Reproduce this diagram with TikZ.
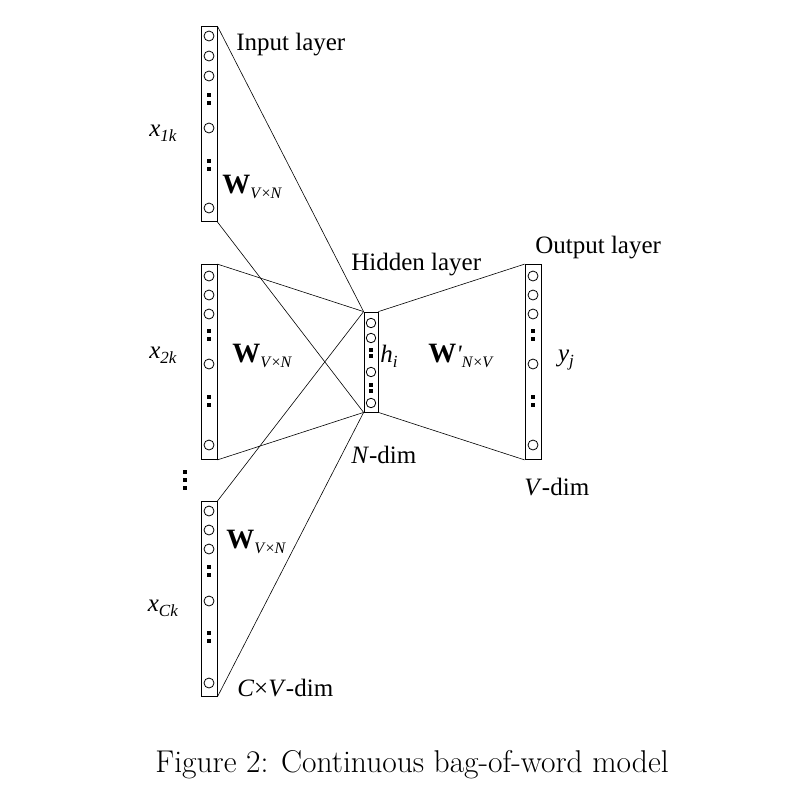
\documentclass[tikz,border=0pt]{standalone}
\usepackage{fontspec}
\newfontfamily\timesfont{Liberation Serif}
\usetikzlibrary{positioning}
\tikzset{
layer/.style={draw, thick, minimum width=16pt, minimum height=195pt, inner sep=0pt}, % column of units
unit/.style={draw, circle, thick, minimum size=10pt, inner sep=0pt},
vdot/.style={fill, minimum size=3.5pt, inner sep=0pt},
lbl/.style={font=\timesfont\fontsize{25}{28}\selectfont, inner sep=0pt},
}
\newcommand{\unitdots}[2]{% two small squares
\node[vdot] at (#1,#2-4) {}; \node[vdot] at (#1,#2+4) {};}
\newcommand{\bw}{{\fontsize{28}{30}\selectfont\textbf{W}}}
\newcommand{\vn}{\raisebox{-5pt}{\fontsize{16}{18}\selectfont\textit{V}×\textit{N}}}
\begin{document}
\begin{tikzpicture}[x=1pt,y=-1pt, semithick]
\useasboundingbox (0,0) rectangle (812,796);

% input columns
\node[layer] (in1) at (209,124) {};
\node[layer] (in2) at (209,362) {};
\node[layer] (in3) at (209,599) {};
\node[layer, minimum width=14pt, minimum height=100pt] (hid) at (371,362) {};
\node[layer] (out) at (533,362) {};

\foreach \y in {36,56,76,128,208} \node[unit] at (209,\y) {};
\unitdots{209}{99} \unitdots{209}{165}
\foreach \y in {276,295,314,364,445} {
  \node[unit] at (209,\y) {};
  \node[unit] at (533,\y) {};
}
\unitdots{209}{335} \unitdots{209}{401}
\unitdots{533}{335} \unitdots{533}{401}
\foreach \y in {511,530,549,601,683} \node[unit] at (209,\y) {};
\unitdots{209}{571} \unitdots{209}{637}
\foreach \y in {323,338,372,403} \node[unit, minimum size=9.5pt] at (371,\y) {};
\node[vdot] at (371,350) {}; \node[vdot] at (371,356) {};
\node[vdot] at (371,385) {}; \node[vdot] at (371,391) {};
% dots between input columns
\foreach \y in {472,480,488} \node[vdot, minimum size=4pt] at (185,\y) {};

% connections
\draw (in1.north east) -- (hid.north west);
\draw (in1.south east) -- (hid.south west);
\draw (in2.north east) -- (hid.north west);
\draw (in2.south east) -- (hid.south west);
\draw (in3.north east) -- (hid.north west);
\draw (in3.south east) -- (hid.south west);
\draw (hid.north east) -- (out.north west);
\draw (hid.south east) -- (out.south west);

% labels
\node[lbl, anchor=west] (tin) at (236,45) {Input layer};
\node[lbl] (x1) at (163,133) {\textit{x}\raisebox{-5pt}{\fontsize{17}{18}\selectfont\textit{1k}}};
\node[lbl, anchor=west] (w1) at (222,187) {\bw\vn};
\node[lbl] (x2) at (163,355) {\textit{x}\raisebox{-5pt}{\fontsize{17}{18}\selectfont\textit{2k}}};
\node[lbl, anchor=west] (w2) at (232,356) {\bw\vn};
\node[lbl] (x3) at (163,608) {\textit{x}\raisebox{-5pt}{\fontsize{17}{18}\selectfont\textit{Ck}}};
\node[lbl, anchor=west] (w3) at (226,542) {\bw\vn};
\node[lbl, anchor=west] (tc) at (237,688) {\textit{C}×\textit{V}-dim};
\node[lbl, anchor=west] (thid) at (351,265) {Hidden layer};
\node[lbl] (h) at (389,356) {\textit{h}\raisebox{-5pt}{\fontsize{17}{18}\selectfont\textit{i}}};
\node[lbl, anchor=west] (tn) at (351,455) {\textit{N}-dim};
\node[lbl, anchor=west] (wp) at (428,356) {\bw\textit{'}\raisebox{-5pt}{\fontsize{16}{18}\selectfont\textit{N}×\textit{V}}};
\node[lbl, anchor=west] (tout) at (535,248) {Output layer};
\node[lbl] (y) at (566,360) {\textit{y}\raisebox{-5pt}{\fontsize{17}{18}\selectfont\textit{j}}};
\node[lbl, anchor=west] (tv) at (524,487) {\textit{V}-dim};
\node[font=\fontsize{31.5}{34}\selectfont] (cap) at (412,765) {Figure 2: Continuous bag-of-word model};
\end{tikzpicture}
\end{document}
